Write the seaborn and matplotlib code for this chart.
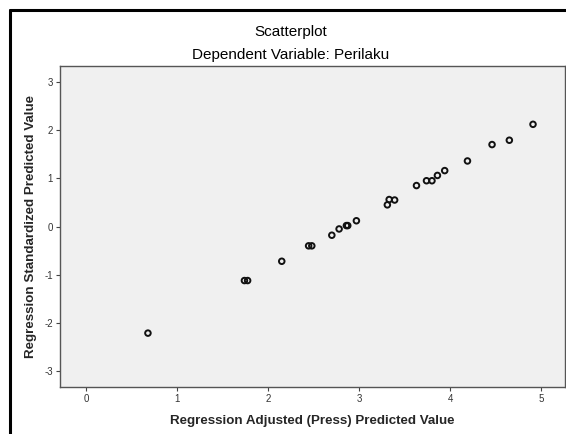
import matplotlib
matplotlib.use('Agg')
import matplotlib.pyplot as plt
import seaborn as sns
import pandas as pd

# valores
adjusted_pred = [0.68, 1.74, 1.775, 2.15, 2.445, 2.48, 2.70, 2.78, 2.86, 2.875, 2.97,
                 3.31, 3.33, 3.39, 3.63, 3.74, 3.80, 3.86, 3.94, 4.19, 4.46, 4.65, 4.91]
std_pred = [-2.21, -1.12, -1.12, -0.72, -0.40, -0.40, -0.18, -0.05, 0.02, 0.02, 0.12,
            0.45, 0.56, 0.55, 0.85, 0.95, 0.95, 1.06, 1.16, 1.36, 1.70, 1.79, 2.12]
x_ticks = [0, 1, 2, 3, 4, 5]
y_ticks = [-3, -2, -1, 0, 1, 2, 3]

df = pd.DataFrame({'adjusted': adjusted_pred, 'standardized': std_pred})

sns.set_style('white')
plt.rcParams['font.family'] = ['Liberation Sans', 'DejaVu Sans']
plt.rcParams['axes.unicode_minus'] = False

fig = plt.figure(figsize=(5.66, 4.34), dpi=100)
ax = fig.add_axes([0.106, 0.108, 0.892, 0.74])
ax.set_facecolor('#f0f0f0')

sns.scatterplot(x='adjusted', y='standardized', data=df, ax=ax,
                marker='o', s=16, facecolor='none', edgecolor='#111111', linewidth=1.4)

ax.set_xlim(-0.286, 5.26)
ax.set_ylim(-3.33, 3.33)
ax.set_xticks(x_ticks)
ax.set_yticks(y_ticks)
ax.tick_params(axis='both', direction='out', length=3, width=0.8, color='#444',
               labelsize=7, labelcolor='#333', left=True, bottom=True, pad=2)
for sp in ax.spines.values():
    sp.set_color('#555')
    sp.set_linewidth(1)

ax.set_xlabel('Regression Adjusted (Press) Predicted Value', fontsize=9.6,
              fontweight='bold', labelpad=8)
ax.set_ylabel('Regression Standardized Predicted Value', fontsize=9.6,
              fontweight='bold', labelpad=5)

fig.text(0.514, 0.927, 'Scatterplot', ha='center', va='center', fontsize=11, color='black')
fig.text(0.514, 0.873, 'Dependent Variable: Perilaku', ha='center', va='center',
         fontsize=11, color='black')

# moldura externa (estilo SPSS)
fig.add_artist(plt.Line2D([0.017, 0.017], [0, 0.977], color='black', lw=2.2))
fig.add_artist(plt.Line2D([0.017, 1], [0.977, 0.977], color='black', lw=2.2))

plt.savefig('out.png', dpi=100)
